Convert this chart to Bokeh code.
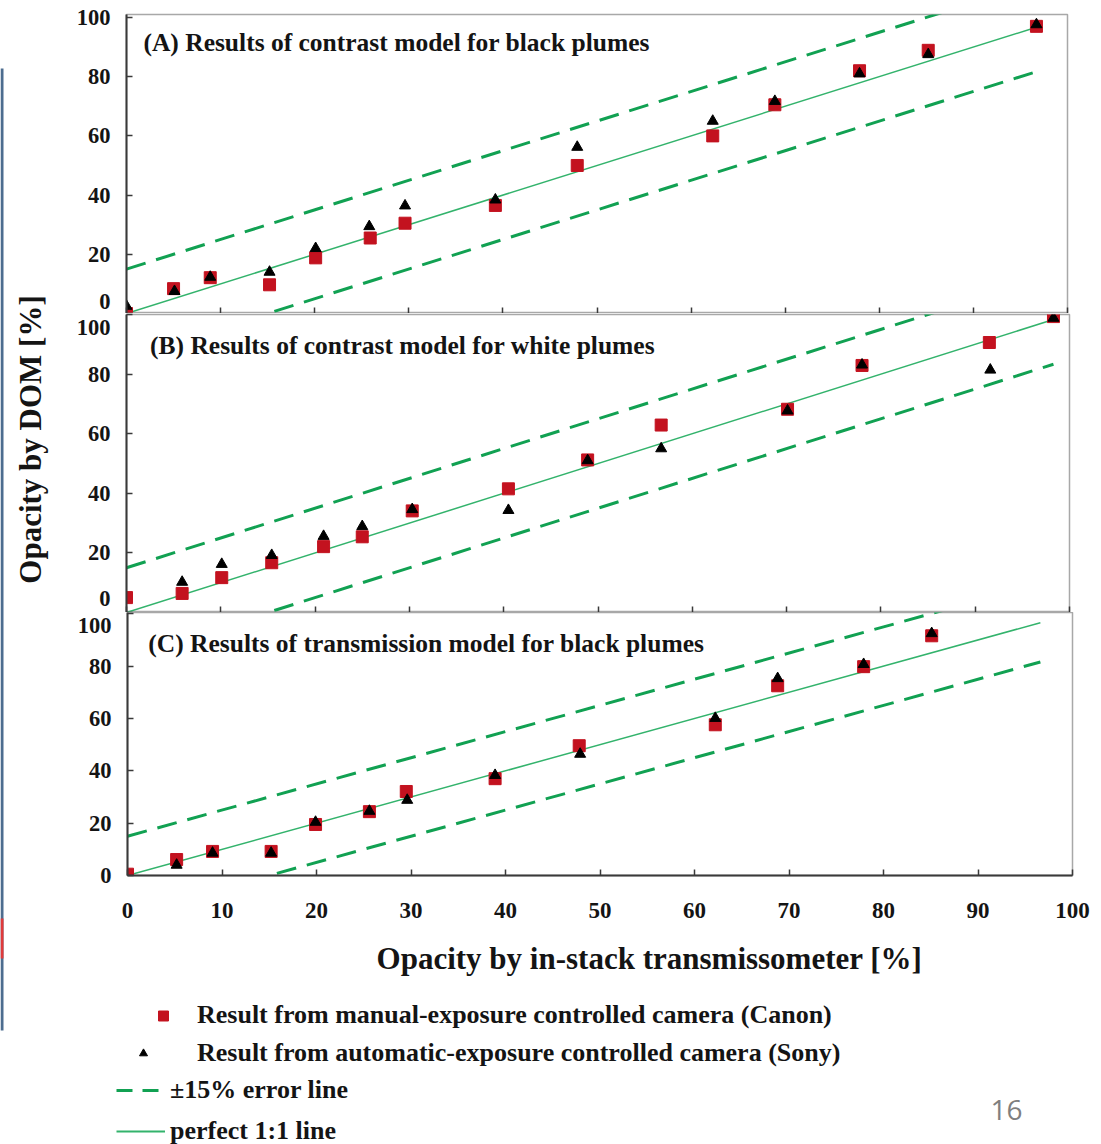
import math
from bokeh.plotting import figure
from bokeh.layouts import row, column
from bokeh.models import Range1d, Label, Legend, LegendItem, FixedTicker, BoxAnnotation
from bokeh.embed import file_html
from bokeh.resources import INLINE

# ---------------- data ----------------
x_ticks = [0, 10, 20, 30, 40, 50, 60, 70, 80, 90, 100]
y_ticks = [0, 20, 40, 60, 80, 100]
error_pct = 15

title_a = "(A) Results of contrast model for black plumes"
title_b = "(B) Results of contrast model for white plumes"
title_c = "(C) Results of transmission model for black plumes"

# Panel A
a_canon_x = [0, 5.0, 8.9, 15.2, 20.1, 25.9, 29.6, 39.2, 47.9, 62.3, 68.9, 77.9, 85.2, 96.7]
a_canon_y = [0, 8.4, 12.1, 9.7, 18.8, 25.5, 30.5, 36.5, 50.0, 60.0, 70.5, 82.0, 88.9, 97.0]
a_sony_x = [0, 5.1, 8.9, 15.2, 20.1, 25.8, 29.6, 39.2, 47.9, 62.3, 68.9, 77.9, 85.2, 96.7]
a_sony_y = [2.5, 7.5, 12.3, 14.0, 22.0, 29.4, 36.4, 38.4, 56.2, 65.0, 71.7, 81.0, 87.5, 97.6]
a_line_x = [0, 96.7]

# Panel B
b_canon_x = [0, 5.9, 10.1, 15.4, 20.9, 25.0, 30.3, 40.5, 48.9, 56.7, 70.1, 78.0, 91.5, 98.3]
b_canon_y = [5.0, 6.4, 11.7, 16.7, 22.1, 25.4, 34.1, 41.5, 51.2, 62.9, 68.2, 82.9, 90.6, 99.3]
b_sony_x = [5.9, 10.1, 15.4, 20.9, 25.0, 30.3, 40.5, 48.9, 56.7, 70.1, 78.0, 91.6, 98.3]
b_sony_y = [10.2, 16.2, 19.2, 25.6, 28.9, 34.6, 34.3, 51.0, 55.0, 67.7, 83.1, 81.4, 98.8]
b_line_x = [0, 98.3]

# Panel C
c_canon_x = [0, 5.2, 9.0, 15.2, 19.9, 25.6, 29.5, 38.9, 47.8, 62.2, 68.8, 77.9, 85.1]
c_canon_y = [0.5, 6.1, 9.2, 9.2, 19.5, 24.4, 32.1, 37.0, 49.6, 57.6, 72.5, 79.8, 91.6]
c_sony_x = [5.2, 9.0, 15.2, 19.9, 25.6, 29.6, 38.9, 47.9, 62.2, 68.8, 77.9, 85.1]
c_sony_y = [4.0, 8.6, 8.6, 20.4, 24.6, 28.8, 38.3, 46.4, 60.1, 75.3, 80.7, 92.5]
c_line_x = [0, 96.6]

legend_labels = [
    "Result from manual-exposure controlled camera (Canon)",
    "Result from automatic-exposure controlled camera (Sony)",
    "\u00b115% error line",
    "perfect 1:1 line",
]
x_title = "Opacity by in-stack transmissometer [%]"
y_title = "Opacity by DOM [%]"
page_number = "16"

# ---------------- style ----------------
SERIF = "Liberation Serif"
RED = "#C3121F"
GREEN_DASH = "#11A152"
GREEN_LINE = "#33B36C"
DARK = "#3a3a3a"
FRAME = "#a8a8a8"
TXT = "#141414"
LEFT_W = 60
PANEL_W = 1101 - LEFT_W


def make_panel(title, title_xy, cx, cy, sx, sy, line_x, y_end, frame_w, b_left,
               height, b_top, b_bottom, overrides, line_h, show_x_labels):
    p = figure(width=PANEL_W, height=height,
               x_range=Range1d(0, 100), y_range=Range1d(0, y_end),
               min_border_left=b_left, min_border_right=PANEL_W - b_left - frame_w,
               min_border_top=b_top, min_border_bottom=b_bottom,
               toolbar_location=None, output_backend="svg")
    p.frame_align = False
    p.grid.visible = False
    p.background_fill_color = "white"
    p.border_fill_color = "white"
    p.outline_line_color = FRAME
    p.outline_line_width = 1.5

    p.line(line_x, [v + error_pct for v in line_x], line_color=GREEN_DASH,
           line_width=3, line_dash="20 11")
    p.line(line_x, [v - error_pct for v in line_x], line_color=GREEN_DASH,
           line_width=3, line_dash="20 11")
    p.line(line_x, line_x, line_color=GREEN_LINE, line_width=1.5)
    p.scatter(cx, cy, marker="square", size=12, fill_color=RED, line_color=RED)
    p.scatter(sx, sy, marker="triangle", size=11, fill_color="black", line_color="black")

    p.add_layout(Label(x=title_xy[0], y=title_xy[1], text=title, text_font=SERIF,
                       text_font_style="bold", text_font_size="25.5px",
                       text_baseline="middle", text_color=TXT))

    ya = p.yaxis[0]
    ya.ticker = FixedTicker(ticks=y_ticks)
    ya.major_label_overrides = overrides
    ya.major_label_text_line_height = line_h
    ya.major_tick_in = 6
    ya.major_tick_out = 0
    ya.minor_tick_line_color = None
    ya.axis_line_color = DARK
    ya.axis_line_width = 2
    ya.major_tick_line_color = DARK
    ya.major_tick_line_width = 1.5
    ya.major_label_standoff = 16
    ya.major_label_text_font = SERIF
    ya.major_label_text_font_style = "bold"
    ya.major_label_text_font_size = "22.5px"
    ya.major_label_text_color = TXT

    xa = p.xaxis[0]
    xa.ticker = FixedTicker(ticks=x_ticks)
    xa.major_tick_in = 6
    xa.major_tick_out = 0
    xa.minor_tick_line_color = None
    xa.major_tick_line_color = DARK
    xa.major_tick_line_width = 1.5
    if show_x_labels:
        xa.axis_line_color = DARK
        xa.axis_line_width = 2
        xa.major_label_standoff = 27
        xa.major_label_text_font = SERIF
        xa.major_label_text_font_style = "bold"
        xa.major_label_text_font_size = "23px"
        xa.major_label_text_color = TXT
    else:
        xa.axis_line_color = FRAME
        xa.axis_line_width = 1.5
        xa.major_label_standoff = 0
        xa.major_label_text_font_size = "1px"
        xa.major_label_text_color = None
    return p


pa = make_panel(title_a, (1.8, 91.5), a_canon_x, a_canon_y, a_sony_x, a_sony_y,
                a_line_x, 101, 941, 66, 313, 14, 0, {0: "0\n "}, 0.0, False)
pb = make_panel(title_b, (2.5, 89.6), b_canon_x, b_canon_y, b_sony_x, b_sony_y,
                b_line_x, 100, 943, 66, 299, 1, 0, {0: "0\n ", 100: " \n100"}, 0.05, False)
pc = make_panel(title_c, (2.2, 88.5), c_canon_x, c_canon_y, c_sony_x, c_sony_y,
                c_line_x, 100.5, 945, 67, 313, 0, 50, {100: " \n100"}, 0.0, True)

# ---------- bottom strip: axis title, legend, page number ----------
D_H = 1144 - 313 - 299 - 313
# the strip's ranges lie outside the data, so its legend proxies draw nothing in the strip
pd = figure(width=PANEL_W, height=D_H, x_range=Range1d(-3, -2), y_range=Range1d(-3, -2),
            x_axis_type=None, y_axis_type=None, min_border=0,
            toolbar_location=None, output_backend="svg")
pd.frame_align = False
pd.grid.visible = False
pd.outline_line_color = None
pd.border_fill_color = "white"
k_sq = pd.scatter(c_canon_x, c_canon_y, marker="square", size=12, fill_color=RED, line_color=RED)
k_tri = pd.scatter(c_sony_x, c_sony_y, marker="triangle", size=11, fill_color="black",
                   line_color="black")
k_dash = pd.line(c_line_x, [v + error_pct for v in c_line_x], line_color=GREEN_DASH,
                 line_width=3, line_dash="16 10")
k_one = pd.line(c_line_x, c_line_x, line_color=GREEN_LINE, line_width=2)

pd.add_layout(Label(x=589, y=186, x_units="screen", y_units="screen", text=x_title,
                    text_font=SERIF, text_font_style="bold", text_font_size="31px",
                    text_align="center", text_baseline="middle", text_color=TXT))
pd.add_layout(Label(x=946, y=35, x_units="screen", y_units="screen", text=page_number,
                    text_font="Open Sans", text_font_size="28px", text_align="center",
                    text_baseline="middle", text_color="#7f7f7f"))

leg_sq = Legend(items=[LegendItem(label=legend_labels[0], renderers=[k_sq])],
                location=(70, 114))
leg_tri = Legend(items=[LegendItem(label=legend_labels[1], renderers=[k_tri])],
                 location=(50, 76))
leg_lines = Legend(items=[LegendItem(label=legend_labels[2], renderers=[k_dash]),
                          LegendItem(label=legend_labels[3], renderers=[k_one])],
                   location=(56, -2))
for lg, gw, gh, st, sp in ((leg_sq, 66, 25, 1, 0), (leg_tri, 66, 20, 21, 0),
                           (leg_lines, 49, 28, 5, 11)):
    lg.orientation = "vertical"
    lg.glyph_width = gw
    lg.glyph_height = gh
    lg.label_height = 28
    lg.label_standoff = st
    lg.spacing = sp
    lg.padding = 0
    lg.margin = 0
    lg.background_fill_alpha = 0
    lg.border_line_color = None
    lg.label_text_font = SERIF
    lg.label_text_font_style = "bold"
    lg.label_text_font_size = "26px"
    lg.label_text_color = TXT
    pd.add_layout(lg)

# ---------- left strip with the shared y-axis title ----------
left = figure(width=LEFT_W, height=1144, x_range=Range1d(0, 1), y_range=Range1d(0, 1),
              x_axis_type=None, y_axis_type=None, min_border=0,
              toolbar_location=None, output_backend="svg")
left.frame_align = False
left.grid.visible = False
left.outline_line_color = None
left.border_fill_color = "white"
left.add_layout(BoxAnnotation(left=0, right=3, bottom=114, top=1076,
                              left_units="screen", right_units="screen",
                              bottom_units="screen", top_units="screen",
                              fill_color="#4d6d8f", fill_alpha=1, line_color=None))
left.add_layout(BoxAnnotation(left=0, right=3, bottom=186, top=226,
                              left_units="screen", right_units="screen",
                              bottom_units="screen", top_units="screen",
                              fill_color="#e03a3a", fill_alpha=1, line_color=None))
left.add_layout(Label(x=30, y=705, x_units="screen", y_units="screen", text=y_title,
                      angle=math.pi / 2, text_font=SERIF, text_font_style="bold",
                      text_font_size="31px", text_align="center", text_baseline="middle",
                      text_color=TXT))

layout = row(left, column(pa, pb, pc, pd))
open("out.html", "w").write(file_html(layout, INLINE))
